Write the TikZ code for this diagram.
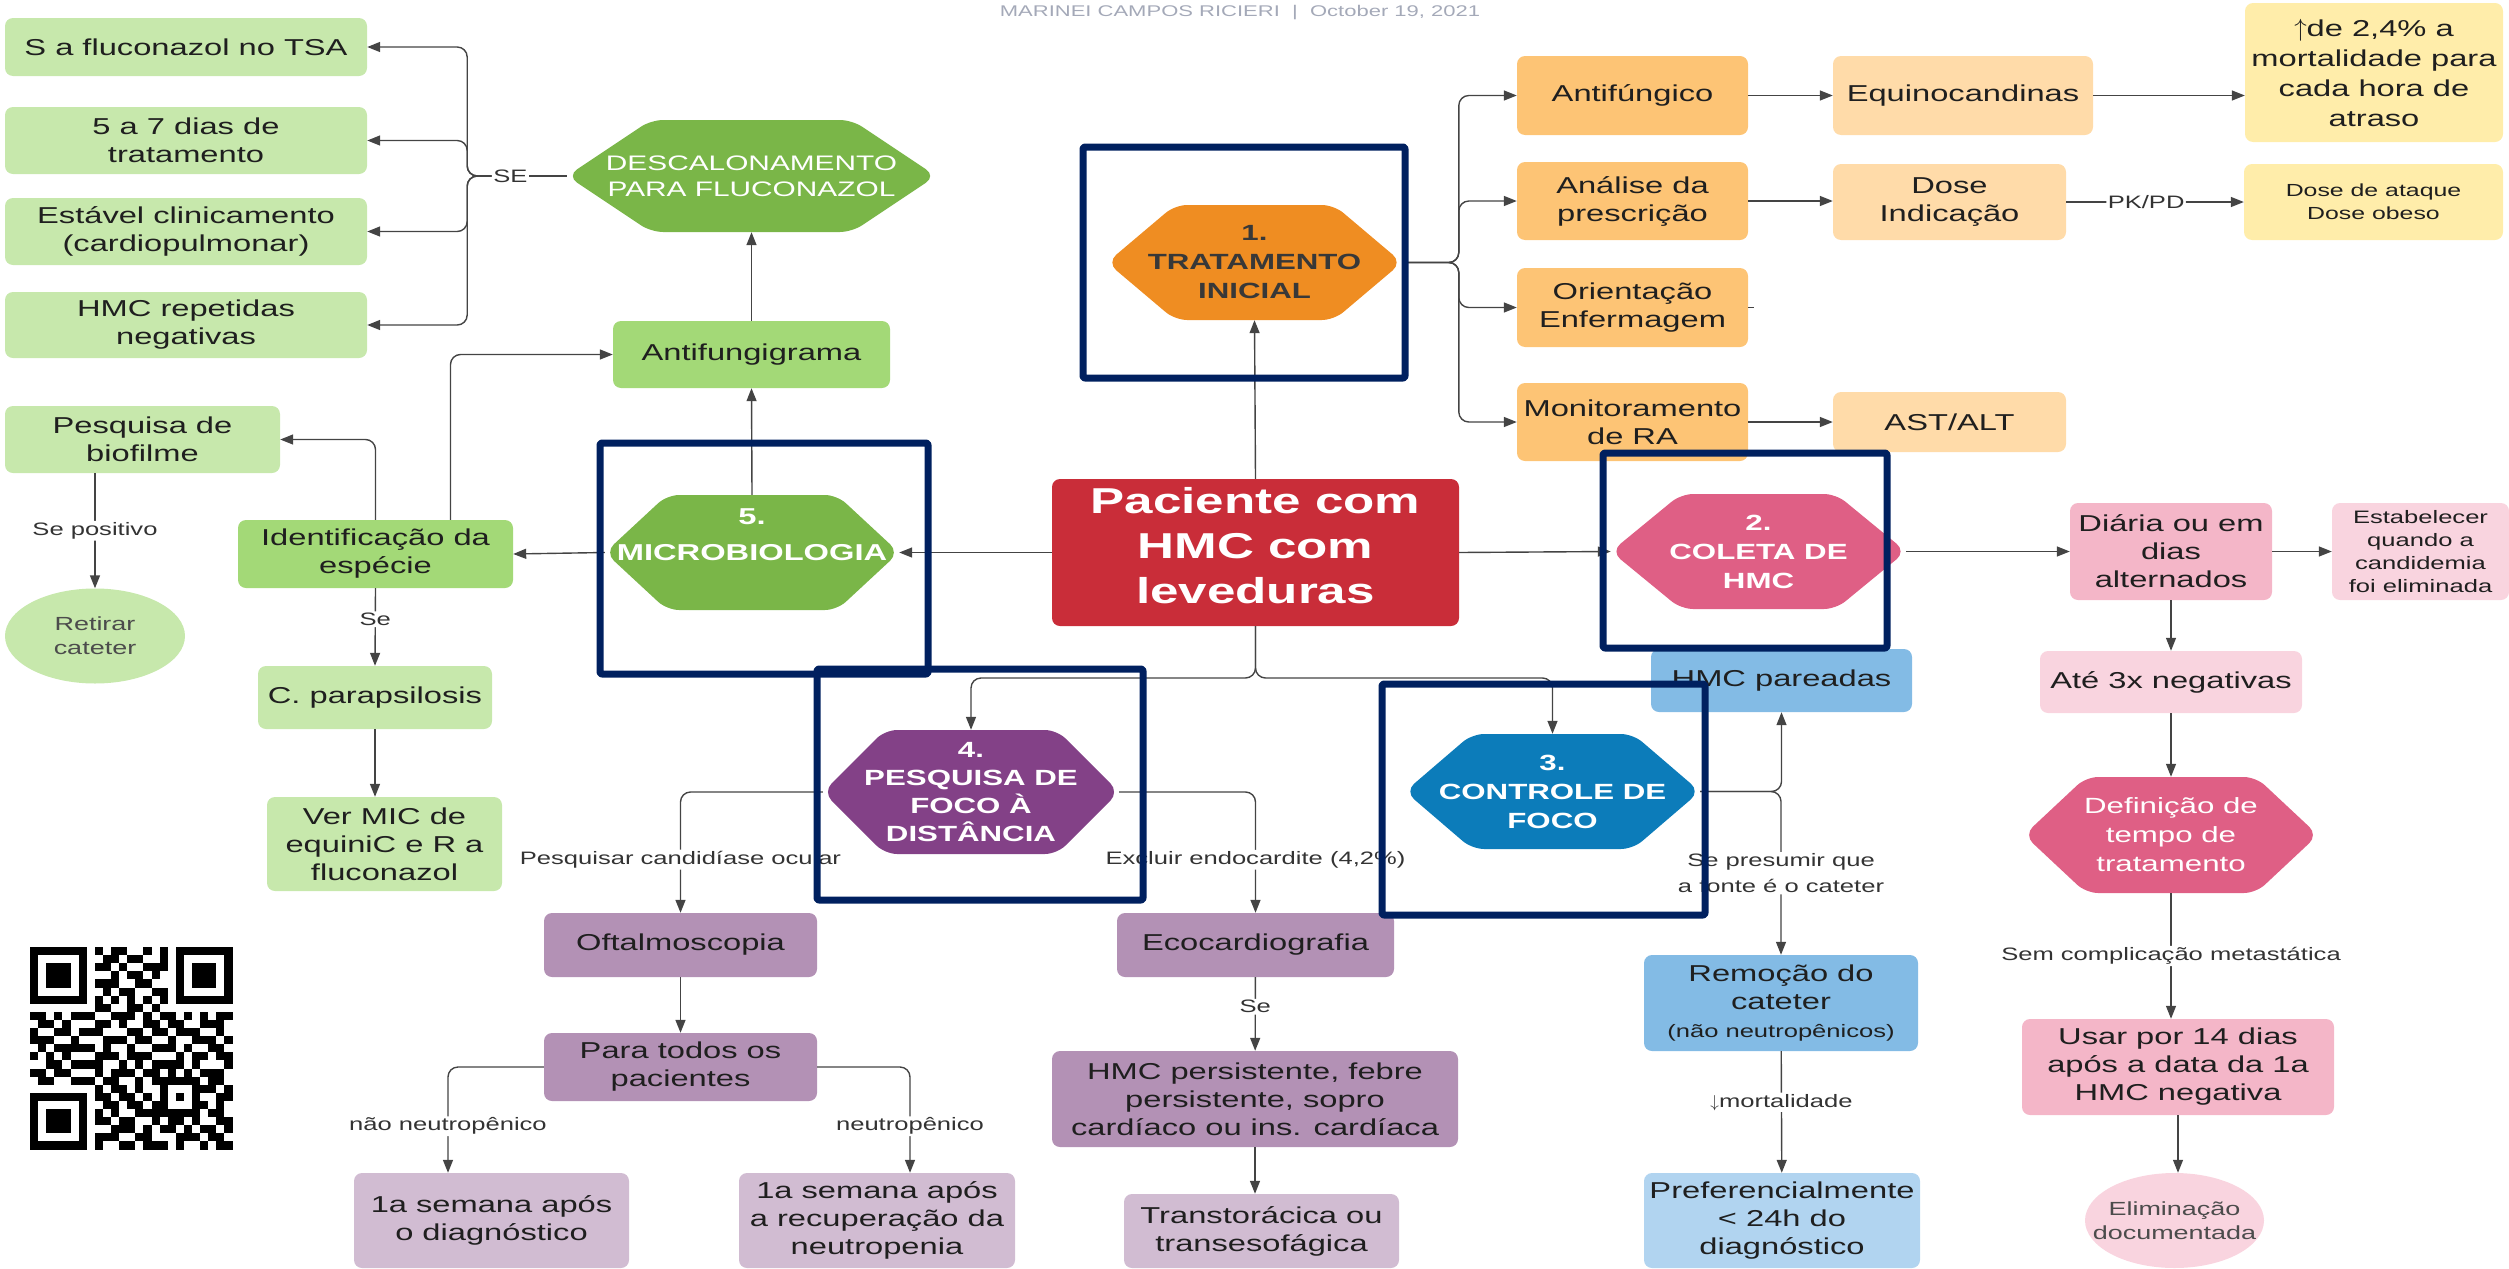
\documentclass[tikz,border=0pt]{standalone}
\usepackage{fontspec}
\setmainfont{Liberation Sans}[FakeStretch=1.42]
\usetikzlibrary{arrows.meta,shapes.geometric}
\definecolor{linec}{HTML}{444444}
\definecolor{navy}{HTML}{00205F}
\definecolor{hdrc}{HTML}{A4A9B8}
\definecolor{lgreen}{HTML}{C7E8AC}
\definecolor{mgreen}{HTML}{A3D977}
\definecolor{dgreen}{HTML}{7AB648}
\definecolor{dorange}{HTML}{EF8D22}
\definecolor{morange}{HTML}{FDC475}
\definecolor{lorange}{HTML}{FFDBA9}
\definecolor{lyellow}{HTML}{FFEDAA}
\definecolor{dred}{HTML}{C92D39}
\definecolor{dpink}{HTML}{DF5F85}
\definecolor{mpink}{HTML}{F4B6C8}
\definecolor{lpink}{HTML}{F9D4DF}
\definecolor{dblue}{HTML}{0C7CBA}
\definecolor{mblue}{HTML}{83BBE5}
\definecolor{lblue}{HTML}{B1D4F0}
\definecolor{dpurple}{HTML}{834187}
\definecolor{mpurple}{HTML}{B391B5}
\definecolor{lpurple}{HTML}{D1BCD2}
\newcommand{\fsz}[2]{\fontsize{#1}{#2}\selectfont}
\newcommand{\qrline}[2]{\def\qry{#1}\def\qrx{0}\qrscan#2\relax}
\def\qrscan#1{\ifx#1\relax\else\if1#1\fill (30+8.1*\qrx,947+8.1*\qry) rectangle ++(8.1,8.1);\fi\pgfmathtruncatemacro\qrx{\qrx+1}\expandafter\qrscan\fi}
\tikzset{
  cbox/.style={rectangle, rounded corners=8, align=center, inner sep=2, text=black!88, font=\fsz{23}{28}},
  hexa/.style 2 args={rectangle, inner sep=0, align=center, text=white,
    path picture={\fill[#1, rounded corners=12] (path picture bounding box.west)
      -- ([xshift=#2]path picture bounding box.north west) -- ([xshift=-#2]path picture bounding box.north east)
      -- (path picture bounding box.east)
      -- ([xshift=-#2]path picture bounding box.south east) -- ([xshift=#2]path picture bounding box.south west) -- cycle;}},
}
\begin{document}
\begin{tikzpicture}[x=1pt, y=-1pt, line join=round,
  conn/.style={draw=linec, line width=1.4, rounded corners=10},
  arr/.style={conn, -{Triangle[length=13pt,width=10pt]}},
  lbl/.style={fill=white, inner sep=1.5, text=black!80, font=\fsz{18}{26}, align=center},
  navyframe/.style={draw=navy, line width=7, rounded corners=2}]
\useasboundingbox (0,0) rectangle (2509,1269);
\node[text=hdrc, font=\fsz{15.5}{18}] (hdr) at (1240,13) {MARINEI CAMPOS RICIERI~~|~~October 19, 2021};
% descalonamento
\node[cbox, fill=lgreen, minimum width=362, minimum height=58] (tsa) at (186,47) {S a fluconazol no TSA};
\node[cbox, fill=lgreen, minimum width=362, minimum height=67] (dias) at (186,140.5) {5 a 7 dias de\\tratamento};
\node[cbox, fill=lgreen, minimum width=362, minimum height=67] (estavel) at (186,231.5) {Estável clinicamento\\(cardiopulmonar)};
\node[cbox, fill=lgreen, minimum width=362, minimum height=66] (hmcneg) at (186,325) {HMC repetidas\\negativas};
\node[hexa={dgreen}{84}, minimum width=369, minimum height=112, font=\fsz{21}{26}] (desc) at (751.5,176) {DESCALONAMENTO\\PARA FLUCONAZOL};
\node[cbox, fill=mgreen, minimum width=277, minimum height=67] (antif) at (751.5,354.5) {Antifungigrama};
% microbiologia
\node[cbox, fill=lgreen, minimum width=275, minimum height=67] (bio) at (142.5,439.5) {Pesquisa de\\biofilme};
\node[ellipse, fill=lgreen, minimum width=180, minimum height=95, inner sep=0, inner xsep=-20, align=center, text=black!70, font=\fsz{19}{24}] (retirar) at (95,636) {Retirar\\cateter};
\node[cbox, fill=mgreen, minimum width=275, minimum height=68] (ident) at (375.5,554) {Identificação da\\espécie};
\node[cbox, fill=lgreen, minimum width=234, minimum height=63] (parap) at (375,697.5) {C. parapsilosis};
\node[cbox, fill=lgreen, minimum width=235, minimum height=94] (vermic) at (384.5,844) {Ver MIC de\\equiniC e R a\\fluconazol};
\node[hexa={dgreen}{62}, minimum width=294, minimum height=115, font=\fsz{23}{36}\bfseries] (micro) at (752,552.5) {5.\\MICROBIOLOGIA\\~};
% paciente e tratamento
\node[cbox, fill=dred, text=white, minimum width=407, minimum height=147, text depth=14, font=\fsz{36}{45}\bfseries] (pac) at (1255.5,552.5) {Paciente com\\HMC com\\leveduras};
\node[hexa={dorange}{68}, minimum width=295, minimum height=115, text=black!78, font=\fsz{22}{29}\bfseries] (trat) at (1254.5,262.5) {1.\\TRATAMENTO\\INICIAL};
\node[cbox, fill=morange, minimum width=231, minimum height=79] (antifun) at (1632.5,95.5) {Antifúngico};
\node[cbox, fill=morange, minimum width=231, minimum height=78] (analise) at (1632.5,201) {Análise da\\prescrição};
\node[cbox, fill=morange, minimum width=231, minimum height=79] (orient) at (1632.5,307.5) {Orientação\\Enfermagem};
\node[cbox, fill=morange, minimum width=231, minimum height=78] (monit) at (1632.5,422) {Monitoramento\\de RA};
\node[cbox, fill=lorange, minimum width=260, minimum height=79] (equino) at (1963,95.5) {Equinocandinas};
\node[cbox, fill=lorange, minimum width=233, minimum height=76] (dose) at (1949.5,202) {Dose\\Indicação};
\node[cbox, fill=lorange, minimum width=233, minimum height=60] (ast) at (1949.5,422) {AST/ALT};
\node[cbox, fill=lyellow, minimum width=258, minimum height=139, font=\fsz{23}{30}] (mortal) at (2374,72.5) {$\uparrow$de 2,4\% a\\mortalidade para\\cada hora de\\atraso};
\node[cbox, fill=lyellow, minimum width=259, minimum height=76, font=\fsz{17.5}{23}] (ataque) at (2373.5,202) {Dose de ataque\\Dose obeso};
% coleta
\node[hexa={dpink}{70}, minimum width=295, minimum height=115, font=\fsz{22}{29}\bfseries] (coleta) at (1758.5,551.5) {2.\\COLETA DE\\HMC};
\node[cbox, fill=mpink, minimum width=202, minimum height=97] (diaria) at (2171,551.5) {Diária ou em\\dias\\alternados};
\node[cbox, fill=lpink, minimum width=177, minimum height=97, font=\fsz{18}{23}] (estab) at (2420.5,551.5) {Estabelecer\\quando a\\candidemia\\foi eliminada};
\node[cbox, fill=lpink, minimum width=262, minimum height=62] (ate3x) at (2171,682) {Até 3x negativas};
\node[hexa={dpink}{62}, minimum width=294, minimum height=116, font=\fsz{22}{29}] (defin) at (2171,835) {Definição de\\tempo de\\tratamento};
\node[cbox, fill=mpink, minimum width=312, minimum height=96] (usar) at (2178,1067) {Usar por 14 dias\\após a data da 1a\\HMC negativa};
\node[ellipse, fill=lpink, minimum width=179, minimum height=95, inner sep=0, inner xsep=-40, align=center, text=black!70, font=\fsz{19}{24}] (elim) at (2174.5,1220.5) {Eliminação\\documentada};
% controle de foco
\node[cbox, fill=mblue, minimum width=261, minimum height=63] (hmcpar) at (1781.5,680.5) {HMC pareadas};
\node[hexa={dblue}{67}, minimum width=295, minimum height=115, font=\fsz{22}{29}\bfseries] (ctrl) at (1552.5,791.5) {3.\\CONTROLE DE\\FOCO};
\node[cbox, fill=mblue, minimum width=274, minimum height=96] (remo) at (1781,1003) {Remoção do\\cateter\\{\fsz{18}{24}(não neutropênicos)}};
\node[cbox, fill=lblue, minimum width=276, minimum height=95] (pref) at (1782,1220.5) {Preferencialmente\\< 24h do\\diagnóstico};
% pesquisa de foco
\node[hexa={dpurple}{62}, minimum width=296, minimum height=124, font=\fsz{22}{28}\bfseries] (pesq) at (971,792) {4.\\PESQUISA DE\\FOCO À\\DISTÂNCIA};
\node[cbox, fill=mpurple, minimum width=273, minimum height=64] (oftal) at (680.5,945) {Oftalmoscopia};
\node[cbox, fill=mpurple, minimum width=273, minimum height=68] (para) at (680.5,1067) {Para todos os\\pacientes};
\node[cbox, fill=lpurple, minimum width=275, minimum height=95] (sem1) at (491.5,1220.5) {1a semana após\\o diagnóstico};
\node[cbox, fill=lpurple, minimum width=276, minimum height=95] (sem2) at (877,1220.5) {1a semana após\\a recuperação da\\neutropenia};
\node[cbox, fill=mpurple, minimum width=277, minimum height=64] (eco) at (1255.5,945) {Ecocardiografia};
\node[cbox, fill=mpurple, minimum width=406, minimum height=96] (hmcpers) at (1255,1099) {HMC persistente, febre\\persistente, sopro\\cardíaco ou ins. cardíaca};
\node[cbox, fill=lpurple, minimum width=275, minimum height=74] (trans) at (1261.5,1231) {Transtorácica ou\\transesofágica};
% ligacoes
\coordinate (se) at (480,176);
\coordinate (split) at (1255.5,678);
\draw[conn] (desc.west) -- node[lbl, pos=0.65]{SE} (se);
\foreach \b in {tsa,dias,estavel,hmcneg} \draw[arr] (se) -| ([xshift=100]\b.east) -- (\b.east);
\draw[arr] (antif.north) -- (desc.south);
\draw[arr] (micro.north) -- (antif.south);
\draw[arr] (micro.west) -- (ident.east);
\draw[arr] (ident.north) |- (bio.east);
\draw[arr] ([xshift=75]ident.north) |- (antif.west);
\draw[arr] (retirar.north |- bio.south) -- node[lbl]{Se positivo} (retirar.north);
\draw[arr] (ident.south) -- node[lbl, pos=0.4]{Se} (parap.north);
\draw[arr] (parap.south) -- (parap.south |- vermic.north);
\draw[arr] (pac.west) -- (micro.east);
\draw[arr] (pac.north) -- (trat.south);
\draw[arr] (pac.east) -- (coleta.west);
\foreach \b in {antifun,analise,orient,monit} \draw[arr] (trat.east) -| ([xshift=-58]\b.west) -- (\b.west);
\draw[arr] (antifun) -- (equino);
\draw[arr] (equino.east) -- (equino.east -| mortal.west);
\draw[arr] (analise.east) -- (analise.east -| dose.west);
\draw[arr] (dose.east) -- node[lbl, pos=0.45]{PK/PD} (ataque.west);
\draw[conn] (orient.east) -- ++(6,0);
\draw[arr] (monit) -- (ast);
\draw[arr] (coleta.east) -- (coleta.east -| diaria.west);
\draw[arr] (diaria) -- (estab);
\draw[arr] (diaria) -- (ate3x);
\draw[arr] (ate3x) -- (defin);
\draw[arr] (defin.south) -- node[lbl]{Sem complicação metastática} (defin.south |- usar.north);
\draw[arr] (usar.south) -- (usar.south |- elim.north);
\draw[arr] (pac.south) -- (split) -| (pesq.north);
\draw[arr] (pac.south) -- (split) -| (ctrl.north);
\draw[arr] (ctrl.east) -| (hmcpar.south);
\draw[arr] (ctrl.east) -| node[lbl, pos=0.75]{Se presumir que\\a fonte é o cateter} (remo.north);
\draw[arr] (remo) -- node[lbl, pos=0.42]{$\downarrow$mortalidade} (pref);
\draw[arr] (pesq.west) -| node[lbl, pos=0.78]{Pesquisar candidíase ocular} (oftal.north);
\draw[arr] (pesq.east) -| node[lbl, pos=0.78]{Excluir endocardite (4,2\%)} (eco.north);
\draw[arr] (oftal) -- (para);
\draw[arr] (para.west) -| node[lbl, pos=0.78]{não neutropênico} ([xshift=-43.5]sem1.north);
\draw[arr] (para.east) -| node[lbl, pos=0.78]{neutropênico} ([xshift=33]sem2.north);
\draw[arr] (eco) -- node[lbl, pos=0.4]{Se} (hmcpers);
\draw[arr] (hmcpers.south) -- (hmcpers.south |- trans.north);
% molduras
\draw[navyframe] (1083,147) rectangle (1405,378);
\draw[navyframe] (600,443) rectangle (928,674);
\draw[navyframe] (1603,453) rectangle (1887,648);
\draw[navyframe] (1382,684) rectangle (1705,915);
\draw[navyframe] (817,669) rectangle (1143,900);
% qr
\qrline{0}{1111111010110010101111111}
\qrline{1}{1000001001101100101000001}
\qrline{2}{1011101011010011101011101}
\qrline{3}{1011101000101101001011101}
\qrline{4}{1011101011100110001011101}
\qrline{5}{1000001001011001101000001}
\qrline{6}{1111111010101010101111111}
\qrline{7}{0000000011001101000000000}
\qrline{8}{1101011100111010110101011}
\qrline{9}{0110100011010011011001110}
\qrline{10}{1001101110001101101110010}
\qrline{11}{1110010001110110010011101}
\qrline{12}{0101111101001001110100110}
\qrline{13}{1010100011101110001011011}
\qrline{14}{0011011110010101111010001}
\qrline{15}{1101100010111011010101110}
\qrline{16}{0110011101100101111110110}
\qrline{17}{0000000010110100100011101}
\qrline{18}{1111111011011010101010011}
\qrline{19}{1000001001101101100011010}
\qrline{20}{1011101010100111111110110}
\qrline{21}{1011101011011001011010011}
\qrline{22}{1011101000111010110101101}
\qrline{23}{1000001011100110001110110}
\qrline{24}{1111111010011011101001011}
\end{tikzpicture}
\end{document}
